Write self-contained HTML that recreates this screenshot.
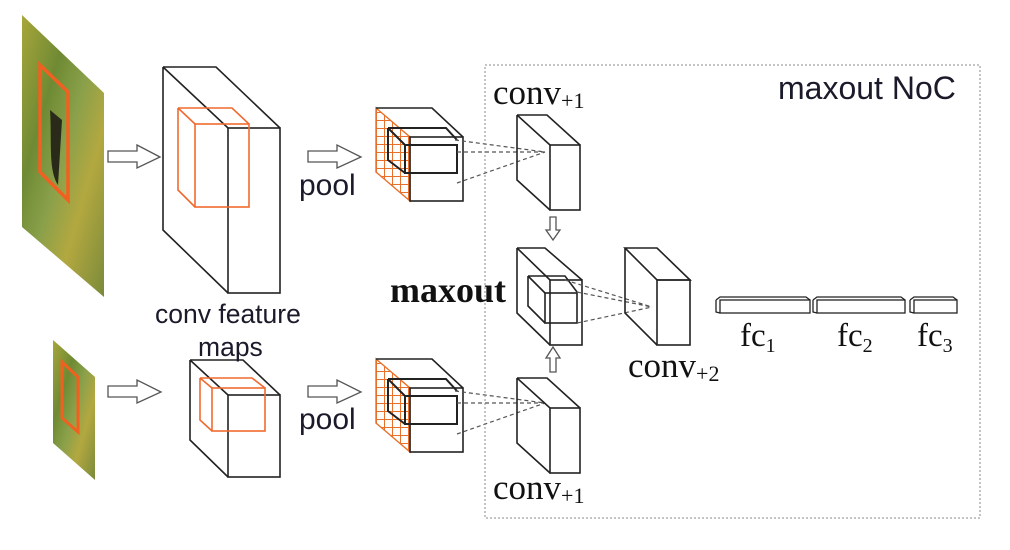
<!DOCTYPE html>
<html><head><meta charset="utf-8"><style>
body{margin:0;background:#fff;}
svg{display:block}
.s{font-family:"Liberation Sans",sans-serif;fill:#1a1a2a}
.r{font-family:"Liberation Serif",serif;fill:#111}
</style></head><body>
<svg width="1010" height="550" viewBox="0 0 1010 550" xmlns="http://www.w3.org/2000/svg">
<defs>
<linearGradient id="g1" x1="0" y1="0" x2="1" y2="1">
<stop offset="0" stop-color="#a8a63a"/><stop offset="0.3" stop-color="#6f8a34"/><stop offset="0.5" stop-color="#8aa04a"/><stop offset="0.7" stop-color="#b3a840"/><stop offset="1" stop-color="#7a8a3a"/>
</linearGradient>
<pattern id="grid" width="8" height="8" patternUnits="userSpaceOnUse"><rect width="8" height="8" fill="#fff"/><path d="M0 0H8M0 0V8" stroke="#e8702a" stroke-width="2"/></pattern>
</defs>
<g fill="none" stroke="#222" stroke-width="1.6">
<polygon points="22,15 104,93 104,297 22,227" fill="url(#g1)" stroke="none"/>
<polygon points="40,65 68,92 68,200 40,172" stroke="#f06020" stroke-width="3.5"/>
<path d="M50,110 C52,140 48,170 58,185 L62,120Z" fill="#2a2a1a" stroke="none"/>
<polygon points="53,340 95,377 95,480 53,443" fill="url(#g1)" stroke="none"/>
<polygon points="62,362 78,377 78,432 62,418" stroke="#f06020" stroke-width="3"/>
<g stroke="#555" stroke-width="1.3" fill="#fff">
<path d="M108,151 H137 V145 L160,157 L137,168 V162 H108Z"/>
<path d="M308,151 H337 V145 L361,157 L337,168 V162 H308Z"/>
<path d="M108,386 H137 V380 L161,392 L137,403 V397 H108Z"/>
<path d="M308,386 H337 V380 L361,392 L337,403 V397 H308Z"/>
<path d="M550,217 H556 V230 H560 L553,240 L546,230 H550Z"/>
<path d="M550,372 H556 V358 H560 L553,347 L546,358 H550Z"/>
</g>
<path d="M163,67 H216 L280,128 M163,67 L228,128 M163,67 V230 L228,293"/>
<rect x="228" y="128" width="52" height="165"/>
<g stroke="#f06a30" stroke-width="1.6"><path d="M178,108 H232 L249,124 M178,108 L195,124 M178,108 V190 L195,207"/><rect x="195" y="124" width="54" height="83"/></g>
<path d="M190,360 H243 L280,395 M190,360 L228,395 M190,360 V440 L228,477"/>
<rect x="228" y="395" width="52" height="82"/>
<g stroke="#f06a30" stroke-width="1.6"><path d="M200,378 H252 L265,388 M200,378 L212,388 M200,378 V420 L212,431"/><rect x="212" y="388" width="53" height="43"/></g>
<g id="pb">
<polygon points="376,108 410,137 410,201 376,172" fill="url(#grid)" stroke="#e8702a" stroke-width="1.4"/>
<path d="M376,108 H432 L463,137"/>
<rect x="410" y="137" width="53" height="64"/>
<path d="M388,128 H446 L457,140 M388,128 L405,145 M388,128 V160 L405,173" stroke-width="2"/>
<rect x="405" y="145" width="52" height="28" stroke-width="2"/>
<path d="M455,140 L545,152 M457,152 L545,152 M457,183 L545,152" stroke="#555" stroke-width="1.2" stroke-dasharray="4,3"/>
</g>
<use href="#pb" transform="translate(0,251)"/>
<g id="cb"><path d="M517,115 H547 L580,145 M517,115 L550,145 M517,115 V180 L550,210"/><rect x="550" y="145" width="30" height="65"/></g>
<use href="#cb" transform="translate(0,263)"/>
<path d="M517,248 H545 L582,280 M517,248 L550,280 M517,248 V313 L550,345"/>
<rect x="550" y="280" width="32" height="65"/>
<path d="M528,276 H565 L577,292 M528,276 L545,293 M528,276 V306 L545,323"/>
<rect x="545" y="293" width="32" height="30"/>
<path d="M565,280 L652,307 M577,292 L652,307 M577,323 L652,307" stroke="#555" stroke-width="1.2" stroke-dasharray="4,3"/>
<path d="M625,248 L657,280 H690 L657,248 H625Z M625,248 V313 L657,345"/>
<rect x="657" y="280" width="33" height="65"/>
<g stroke-width="1.3">
<path d="M716,300 L720,297 H806 L810,300"/><path d="M716,300 V312 L720,313"/><rect x="720" y="300" width="90" height="13"/>
<path d="M813,300 L817,297 H901 L905,300"/><path d="M813,300 V312 L817,313"/><rect x="817" y="300" width="88" height="13"/>
<path d="M910,300 L914,297 H953 L957,300"/><path d="M910,300 V312 L914,313"/><rect x="914" y="300" width="43" height="13"/>
</g>
<rect x="485" y="65" width="495" height="453" stroke="#888" stroke-width="1" stroke-dasharray="2,2"/>
</g>
<text class="s" x="155" y="323" font-size="26.5">conv feature</text>
<text class="s" x="198" y="356" font-size="26.5">maps</text>
<text class="s" x="299" y="195" font-size="30">pool</text>
<text class="s" x="299" y="429" font-size="30">pool</text>
<text class="s" x="778" y="99" font-size="32">maxout NoC</text>
<text class="r" x="390" y="302" font-size="36" font-weight="bold">maxout</text>
<text class="r" x="493" y="104" font-size="35">conv<tspan font-size="22" dy="4">+1</tspan></text>
<text class="r" x="493" y="499" font-size="35">conv<tspan font-size="22" dy="4">+1</tspan></text>
<text class="r" x="628" y="377" font-size="35">conv<tspan font-size="22" dy="4">+2</tspan></text>
<text class="r" x="740" y="346" font-size="33">fc<tspan font-size="20" dy="6">1</tspan></text>
<text class="r" x="837" y="346" font-size="33">fc<tspan font-size="20" dy="6">2</tspan></text>
<text class="r" x="917" y="346" font-size="33">fc<tspan font-size="20" dy="6">3</tspan></text>
</svg>
</body></html>
